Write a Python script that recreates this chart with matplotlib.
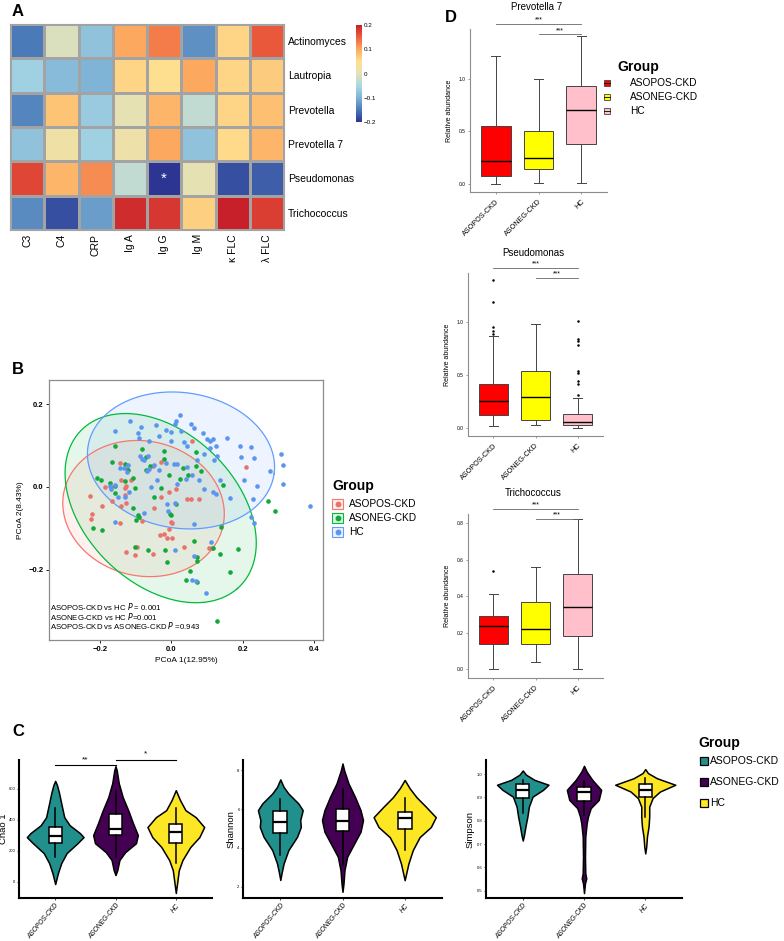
import numpy as np
import matplotlib
matplotlib.use("Agg")
import matplotlib.pyplot as plt
from matplotlib.colors import LinearSegmentedColormap
from matplotlib.patches import Rectangle
from matplotlib.lines import Line2D

plt.rcParams["font.family"] = ["Liberation Sans", "DejaVu Sans"]

# ---------------------------------------------------------------- data
groups = ["ASOPOS-CKD", "ASONEG-CKD", "HC"]

# A - correlation heatmap
heat_rows = ["Actinomyces", "Lautropia", "Prevotella", "Prevotella 7", "Pseudomonas", "Trichococcus"]
heat_cols = ["C3", "C4", "CRP", "Ig A", "Ig G", "Ig M", "\u03ba FLC", "\u03bb FLC"]
heat_vals = np.array([
    [-0.15, -0.01, -0.08, 0.10, 0.13, -0.13, 0.06, 0.155],
    [-0.06, -0.09, -0.10, 0.06, 0.05, 0.10, 0.06, 0.07],
    [-0.14, 0.075, -0.07, 0.00, 0.09, -0.03, 0.06, 0.08],
    [-0.08, 0.02, -0.06, 0.015, 0.10, -0.08, 0.055, 0.09],
    [0.17, 0.09, 0.12, -0.03, -0.20, 0.00, -0.18, -0.17],
    [-0.135, -0.18, -0.12, 0.19, 0.18, 0.065, 0.20, 0.175],
])
heat_colors = ["#2C3592", "#4A7AB8", "#80B4D6", "#A9D8E6", "#E6E1B4",
               "#FEE090", "#FCAA5F", "#EE603D", "#C8202A"]

# B - PCoA scores
pos_x = [-0.229, -0.222, -0.224, -0.194, -0.166, -0.185, -0.170, -0.143, -0.124, -0.141,
         -0.131, -0.141, -0.144, -0.126, -0.126, -0.129, -0.113, -0.082, -0.052, -0.050,
         -0.029, -0.126, -0.103, -0.097, -0.051, -0.006, 0.013, -0.001, -0.033, -0.020,
         -0.013, 0.001, -0.006, 0.003, 0.036, 0.043, 0.054, 0.078, 0.057, 0.105, 0.113,
         0.208, -0.029]
pos_y = [-0.022, -0.066, -0.078, -0.045, -0.034, 0.000, 0.001, 0.058, 0.044, 0.016,
         -0.002, -0.045, -0.088, 0.003, -0.038, -0.019, 0.018, -0.083, 0.051, -0.050,
         -0.024, -0.157, -0.164, -0.144, -0.162, -0.012, -0.006, -0.084, -0.116, -0.114,
         -0.124, -0.122, -0.102, -0.088, -0.144, -0.028, -0.028, -0.030, 0.111, -0.146, -0.146,
         0.048, 0.061]
neg_x = [-0.157, -0.209, -0.196, -0.220, -0.195, -0.173, -0.166, -0.157, -0.157, -0.131,
         -0.130, -0.122, -0.108, -0.101, -0.083, -0.094, -0.099, -0.102, -0.108, -0.091,
         -0.071, -0.071, -0.061, -0.048, -0.029, -0.020, -0.022, -0.006, -0.003, -0.001,
         0.013, 0.033, 0.025, 0.048, 0.070, 0.070, 0.082, 0.138, 0.144, 0.136,
         0.186, 0.270, 0.291, 0.163, 0.063, 0.073, 0.072, 0.053, 0.040, 0.073,
         -0.066, -0.018, -0.011, 0.117, 0.129]
neg_y = [0.099, 0.021, 0.018, -0.098, -0.103, 0.010, 0.061, -0.015, 0.002, 0.056,
         0.014, 0.042, 0.022, -0.002, 0.092, -0.068, -0.080, -0.144, -0.050, -0.072,
         0.040, 0.072, 0.050, -0.024, -0.002, 0.086, 0.068, 0.029, -0.064, -0.068,
         -0.042, 0.046, 0.020, 0.028, 0.085, 0.050, 0.038, -0.096, 0.004, -0.162,
         -0.149, -0.034, -0.058, -0.206, -0.130, -0.169, -0.178, -0.202, -0.224, -0.229,
         -0.152, -0.152, -0.182, -0.148, -0.324]
hc_x = [-0.159, -0.117, -0.085, -0.094, -0.090, -0.062, -0.043, -0.036, -0.015, 0.000,
        0.013, 0.023, 0.010, 0.028, 0.036, 0.064, 0.090, 0.101, 0.108, 0.118,
        0.107, 0.124, 0.155, 0.192, 0.194, 0.224, 0.231, 0.307, 0.313, 0.276,
        0.240, 0.312, 0.203, 0.228, 0.222, 0.231, 0.389, 0.163, 0.136, 0.124,
        0.117, 0.092, 0.078, 0.059, 0.040, 0.017, 0.045, 0.017, 0.007, -0.015,
        -0.034, -0.062, -0.076, -0.068, -0.048, -0.066, -0.089, -0.083, -0.122, -0.124,
        -0.134, -0.145, -0.159, -0.173, -0.169, -0.150, -0.131, -0.120, -0.159, -0.076,
        -0.058, -0.039, -0.013, -0.009, 0.011, 0.064, 0.010, 0.064, 0.068, 0.096,
        0.059, 0.073, 0.092, 0.119, 0.127, 0.000, 0.043, 0.054, 0.110]
hc_y = [0.134, 0.160, 0.144, 0.130, 0.118, 0.112, 0.150, 0.122, 0.138, 0.112,
        0.159, 0.173, 0.152, 0.136, 0.108, 0.142, 0.131, 0.116, 0.110, 0.116,
        0.095, 0.100, 0.118, 0.100, 0.073, 0.096, 0.070, 0.080, 0.054, 0.038,
        0.002, 0.006, 0.018, -0.030, -0.072, -0.086, -0.046, -0.026, 0.016, -0.016,
        -0.013, -0.006, 0.018, 0.028, 0.020, 0.006, 0.048, 0.056, 0.055, 0.059,
        0.040, 0.044, 0.064, 0.038, 0.052, 0.074, 0.074, 0.067, 0.054, 0.036,
        0.046, 0.045, 0.004, 0.002, -0.004, -0.024, -0.024, -0.011, -0.084, -0.062,
        0.000, 0.018, -0.040, -0.058, -0.038, -0.090, -0.152, -0.166, -0.226, -0.256,
        -0.224, 0.064, 0.080, 0.064, 0.074, 0.132, 0.100, 0.152, -0.132]
# stat_ellipse: centre and two conjugate half-axes (data units)
ell_centre = [(-0.078, -0.052), (-0.030, -0.051), (0.027, 0.064)]
ell_u = [(0.223, -0.041), (0.215, -0.194), (0.261, -0.032)]
ell_v = [(0.039, 0.159), (0.160, 0.120), (0.026, 0.162)]
pcoa_tests = ["ASOPOS-CKD vs HC $\\it{P}$ = 0.001",
              "ASONEG-CKD vs HC $\\it{P}$=0.001",
              "ASOPOS-CKD vs ASONEG-CKD $\\it{P}$ =0.943"]

# C - alpha diversity violins: (values, half widths) per group
chao_y = [[-16, 53, 119, 184, 248, 287, 313, 364, 416, 506, 571, 623, 650],
          [42, 74, 139, 190, 248, 300, 377, 461, 545, 635, 719, 745],
          [-74, 0, 74, 139, 223, 287, 352, 416, 461, 526, 590]]
chao_w = [[0, 0.044, 0.10, 0.19, 0.37, 0.47, 0.41, 0.24, 0.15, 0.10, 0.065, 0.03, 0],
          [0, 0.03, 0.065, 0.16, 0.34, 0.37, 0.29, 0.21, 0.12, 0.054, 0.02, 0],
          [0, 0.025, 0.05, 0.11, 0.24, 0.39, 0.47, 0.33, 0.16, 0.07, 0]]
chao_box = [[160, 250, 293, 352, 474], [158, 300, 339, 435, 590], [119, 248, 320, 371, 474]]

shan_y = [[2.35, 2.7, 3.2, 3.89, 4.58, 5.09, 5.44, 5.95, 6.30, 6.81, 7.15, 7.54],
          [1.74, 2.17, 2.86, 3.55, 4.24, 4.84, 5.44, 5.95, 6.64, 7.33, 8.0, 8.36],
          [2.34, 3.2, 3.89, 4.56, 5.08, 5.59, 6.1, 6.62, 7.08, 7.51]]
shan_w = [[0, 0.02, 0.053, 0.13, 0.27, 0.33, 0.32, 0.36, 0.29, 0.13, 0.053, 0],
          [0, 0.016, 0.032, 0.075, 0.19, 0.29, 0.33, 0.29, 0.2, 0.096, 0.027, 0],
          [0, 0.06, 0.13, 0.24, 0.42, 0.5, 0.35, 0.19, 0.08, 0]]
shan_box = [[3.63, 4.75, 5.35, 5.9, 6.55], [3.12, 4.87, 5.39, 5.99, 7.02], [3.89, 4.97, 5.54, 5.85, 6.57]]

simp_y = [[0.715, 0.739, 0.775, 0.818, 0.86, 0.903, 0.932, 0.954, 0.975, 0.997, 1.015],
          [0.49, 0.532, 0.553, 0.575, 0.646, 0.732, 0.789, 0.818, 0.854, 0.889, 0.932, 0.975, 1.01, 1.035],
          [0.66, 0.689, 0.732, 0.775, 0.818, 0.86, 0.897, 0.925, 0.954, 0.982, 1.004, 1.021]]
simp_w = [[0, 0.021, 0.044, 0.076, 0.10, 0.16, 0.33, 0.42, 0.19, 0.054, 0],
          [0, 0.016, 0.037, 0.021, 0.016, 0.021, 0.044, 0.065, 0.11, 0.24, 0.28, 0.135, 0.044, 0],
          [0, 0.016, 0.028, 0.054, 0.065, 0.065, 0.12, 0.24, 0.49, 0.19, 0.044, 0]]
simp_box = [[0.832, 0.899, 0.932, 0.957, 0.975], [0.825, 0.886, 0.921, 0.944, 0.971], [0.818, 0.903, 0.932, 0.958, 0.984]]

# D - relative abundance boxplots: whislo, q1, med, q3, whishi, fliers
prev7_box = [[0.0, 0.07, 0.22, 0.55, 1.22, []],
             [0.01, 0.14, 0.24, 0.50, 1.0, []],
             [0.01, 0.38, 0.70, 0.93, 1.41, []]]
pseudo_box = [[0.02, 0.12, 0.25, 0.41, 0.87, [0.89, 0.91, 0.95, 1.19, 1.39]],
              [0.03, 0.08, 0.29, 0.54, 0.98, []],
              [0.0, 0.03, 0.06, 0.13, 0.28, [0.31, 0.41, 0.44, 0.52, 0.54, 0.78, 0.82, 0.84, 1.01]]]
tricho_box = [[0.0, 0.14, 0.235, 0.29, 0.41, [0.54]],
              [0.04, 0.14, 0.22, 0.37, 0.56, []],
              [0.0, 0.18, 0.34, 0.52, 0.82, []]]

# ---------------------------------------------------------------- figure
W, H = 784, 941
fig = plt.figure(figsize=(W / 100, H / 100), dpi=100)


def px_axes(left, top, right, bottom):
    return fig.add_axes([left / W, 1 - bottom / H, (right - left) / W, (bottom - top) / H])


def fx(x):
    return x / W


def fy(y):
    return 1 - y / H


def letter(x, y, s):
    fig.text(fx(x), fy(y), s, fontsize=12, fontweight="bold", va="center", ha="left")


# ---- A
heat_cmap = LinearSegmentedColormap.from_list("corr", heat_colors)
ax = px_axes(10, 24, 284, 230)
mesh = ax.pcolormesh(heat_vals, cmap=heat_cmap, vmin=-0.2, vmax=0.2,
                     edgecolors="#a3a3a3", linewidth=1.0)
ax.set_xlim(0, len(heat_cols))
ax.set_ylim(len(heat_rows), 0)
ax.set_xticks(np.arange(len(heat_cols)) + 0.5)
ax.set_xticklabels(heat_cols, rotation=90, fontsize=7.5)
ax.yaxis.tick_right()
ax.set_yticks(np.arange(len(heat_rows)) + 0.5)
ax.set_yticklabels(heat_rows, fontsize=7.5)
ax.tick_params(length=0, pad=3)
for s in ax.spines.values():
    s.set_color("#a3a3a3")
ax.text(4.5, 4.5, "*", color="white", ha="center", va="center", fontsize=11)

cax = px_axes(356, 25, 362, 122)
cb = fig.colorbar(mesh, cax=cax, ticks=[-0.2, -0.1, 0, 0.1, 0.2])
cb.ax.set_yticklabels(["\u22120.2", "\u22120.1", "0", "0.1", "0.2"], fontsize=4.5)
cb.ax.tick_params(length=0, pad=1.5)
cb.outline.set_visible(False)
letter(12, 12, "A")

# ---- B
ggc = ["#F8766D", "#00BA38", "#619CFF"]
ptc = ["#E8736A", "#12A83A", "#5B95F0"]
axb = px_axes(49, 380, 323, 640)
t = np.linspace(0, 2 * np.pi, 240)
for (cx, cy), u, v, c in zip(ell_centre, ell_u, ell_v, ggc):
    ex = cx + u[0] * np.cos(t) + v[0] * np.sin(t)
    ey = cy + u[1] * np.cos(t) + v[1] * np.sin(t)
    axb.fill(ex, ey, color=c, alpha=0.1, lw=0)
    axb.plot(ex, ey, color=c, lw=0.9)
for xs, ys, c in zip([pos_x, neg_x, hc_x], [pos_y, neg_y, hc_y], ptc):
    axb.scatter(xs, ys, s=11, color=c, linewidths=0, zorder=3)
axb.set_xlim(-0.343, 0.425)
axb.set_ylim(-0.369, 0.258)
axb.set_xticks([-0.2, 0.0, 0.2, 0.4])
axb.set_yticks([-0.2, 0.0, 0.2])
axb.set_xticklabels(["\u22120.2", "0.0", "0.2", "0.4"])
axb.set_yticklabels(["\u22120.2", "0.0", "0.2"])
axb.tick_params(labelsize=5.5, length=2, width=0.6, pad=2)
for lab in axb.get_xticklabels() + axb.get_yticklabels():
    lab.set_fontweight("bold")
for s in axb.spines.values():
    s.set_color("#8c8c8c")
    s.set_linewidth(0.9)
axb.set_xlabel("PCoA 1(12.95%)", fontsize=6, labelpad=3)
axb.set_ylabel("PCoA 2(8.43%)", fontsize=6, labelpad=3)
for i, s in enumerate(pcoa_tests):
    axb.text(0.005, 0.128 - i * 0.036, s, transform=axb.transAxes, fontsize=5.6, va="center")
letter(12, 369, "B")

fig.text(fx(332), fy(486), "Group", fontsize=10, fontweight="bold", va="center")
for i, (g, c, pc) in enumerate(zip(groups, ggc, ptc)):
    yc = 504 + i * 14
    fig.add_artist(Rectangle((fx(332), fy(yc + 5)), 11 / W, 10 / H, transform=fig.transFigure,
                             facecolor=c, alpha=0.12, edgecolor="none"))
    fig.add_artist(Rectangle((fx(332), fy(yc + 5)), 11 / W, 10 / H, transform=fig.transFigure,
                             facecolor="none", edgecolor=c, lw=0.8))
    fig.add_artist(Line2D([fx(337.5)], [fy(yc)], marker="o", markersize=3.2, color=pc,
                          linestyle="none", transform=fig.transFigure))
    fig.text(fx(349), fy(yc), g, fontsize=7.3, va="center")

# ---- C
vcol = ["#21908C", "#440154", "#FDE725"]
c_axes = [(19, 212, "Chao 1", 3.5, chao_y, chao_w, chao_box, (-106, 785), [0, 200, 400, 600]),
          (243, 442, "Shannon", 231, shan_y, shan_w, shan_box, (1.42, 8.54), [2, 4, 6, 8]),
          (486, 682, "Simpson", 470, simp_y, simp_w, simp_box, (0.469, 1.06), [0.5, 0.6, 0.7, 0.8, 0.9, 1.0])]
for left, right, ylab, labx, ys, ws, boxes, ylim, yt in c_axes:
    axc = px_axes(left, 760, right, 898)
    for i in range(3):
        y = np.array(ys[i])
        w = np.array(ws[i])
        axc.fill_betweenx(y, i + 1 - w, i + 1 + w, facecolor=vcol[i], edgecolor="black",
                          lw=1.1, joinstyle="round", zorder=1)
    stats = [dict(whislo=b[0], q1=b[1], med=b[2], q3=b[3], whishi=b[4], fliers=[]) for b in boxes]
    axc.bxp(stats, positions=[1, 2, 3], widths=0.22, patch_artist=True, showcaps=False,
            boxprops=dict(facecolor="white", edgecolor="black", lw=1.1),
            whiskerprops=dict(color="black", lw=1.1),
            medianprops=dict(color="black", lw=1.6), zorder=2)
    axc.set_xlim(0.4, 3.6)
    axc.set_ylim(*ylim)
    axc.set_yticks(yt)
    axc.set_yticklabels([str(v) for v in yt])
    axc.set_xticks([1, 2, 3])
    axc.set_xticklabels(groups, rotation=50, ha="right", rotation_mode="anchor", fontsize=4.8,
                        style="italic")
    axc.tick_params(axis="y", labelsize=3, length=1.5, width=0.5, pad=1)
    axc.tick_params(axis="x", length=1.5, width=0.5, pad=1.5)
    for s in ["top", "right"]:
        axc.spines[s].set_visible(False)
    for s in ["left", "bottom"]:
        axc.spines[s].set_linewidth(1.5)
    axc.set_ylabel(ylab, fontsize=6.8)
    axc.yaxis.set_label_coords((labx - left) / (right - left), 0.5)
    axc.yaxis.label.set_va("center")
    if ylab == "Chao 1":
        for x0, x1, yb, mark in [(1, 2, 751, "**"), (2, 3, 788, "*")]:
            axc.plot([x0, x1], [yb, yb], color="black", lw=0.8, clip_on=False)
            axc.text((x0 + x1) / 2, yb + 12, mark, ha="center", va="bottom", fontsize=6)
letter(12, 732, "C")

fig.text(fx(698), fy(743), "Group", fontsize=10, fontweight="bold", va="center")
for i, (g, c) in enumerate(zip(groups, vcol)):
    yc = 761 + i * 21
    fig.add_artist(Rectangle((fx(700), fy(yc + 4)), 8 / W, 8 / H, transform=fig.transFigure,
                             facecolor=c, edgecolor="black", lw=0.9))
    fig.text(fx(710), fy(yc), g, fontsize=7.5, va="center")

# ---- D
bcol = ["#FF0000", "#FFFF00", "#FFC0CB"]
d_axes = [("Prevotella 7", prev7_box, 470, 29, 607, 192, (-0.079, 1.473), [0.0, 0.5, 1.0], (1.524, 1.425), 7),
          ("Pseudomonas", pseudo_box, 468, 273, 603, 436, (-0.075, 1.46), [0.0, 0.5, 1.0], (1.51, 1.415), 253),
          ("Trichococcus", tricho_box, 468, 514, 603, 678, (-0.049, 0.85), [0.0, 0.2, 0.4, 0.6, 0.8], (0.879, 0.824), 493)]
for title, boxes, l, tp, r, b, ylim, yt, sig, ty in d_axes:
    axd = px_axes(l, tp, r, b)
    stats = [dict(whislo=s[0], q1=s[1], med=s[2], q3=s[3], whishi=s[4], fliers=s[5]) for s in boxes]
    bp = axd.bxp(stats, positions=[1, 2, 3], widths=0.7, patch_artist=True, capwidths=0.2,
                 boxprops=dict(edgecolor="#444444", lw=0.7),
                 whiskerprops=dict(color="#444444", lw=0.7),
                 capprops=dict(color="#444444", lw=0.7),
                 medianprops=dict(color="black", lw=1.0),
                 flierprops=dict(marker="o", markersize=1.8, markerfacecolor="black",
                                 markeredgecolor="none"))
    for patch, c in zip(bp["boxes"], bcol):
        patch.set_facecolor(c)
    axd.set_xlim(0.4, 3.6)
    axd.set_ylim(*ylim)
    axd.set_yticks(yt)
    axd.set_yticklabels([f"{v:.1f}" for v in yt])
    axd.set_xticks([1, 2, 3])
    axd.set_xticklabels(groups, rotation=45, ha="right", rotation_mode="anchor", fontsize=5.2)
    axd.tick_params(axis="y", labelsize=3.5, length=1.5, width=0.5, pad=2, color="#777777")
    axd.tick_params(axis="x", length=1.5, width=0.5, pad=3, color="#777777")
    for s in ["top", "right"]:
        axd.spines[s].set_visible(False)
    for s in ["left", "bottom"]:
        axd.spines[s].set_color("#8c8c8c")
        axd.spines[s].set_linewidth(0.8)
    axd.set_ylabel("Relative abundance", fontsize=5, labelpad=4)
    for (x0, x1), yb in zip([(1, 3), (2, 3)], sig):
        axd.plot([x0, x1], [yb, yb], color="#666666", lw=0.6, clip_on=False)
        axd.text((x0 + x1) / 2, yb, "***", ha="center", va="bottom", fontsize=5)
    fig.text(fx((l + r) / 2 - 2), fy(ty), title, fontsize=7, ha="center", va="center")
letter(445, 18, "D")

fig.text(fx(617), fy(67), "Group", fontsize=10, fontweight="bold", va="center")
for i, (g, c) in enumerate(zip(groups, bcol)):
    yc = 83 + i * 14
    fig.add_artist(Rectangle((fx(604), fy(yc + 3)), 6 / W, 6 / H, transform=fig.transFigure,
                             facecolor=c, edgecolor="#444444", lw=0.6))
    fig.add_artist(Line2D([fx(604), fx(610)], [fy(yc), fy(yc)], color="black", lw=0.6,
                          transform=fig.transFigure))
    fig.text(fx(630), fy(yc), g, fontsize=7.3, va="center")

fig.savefig("out.png", dpi=100)
